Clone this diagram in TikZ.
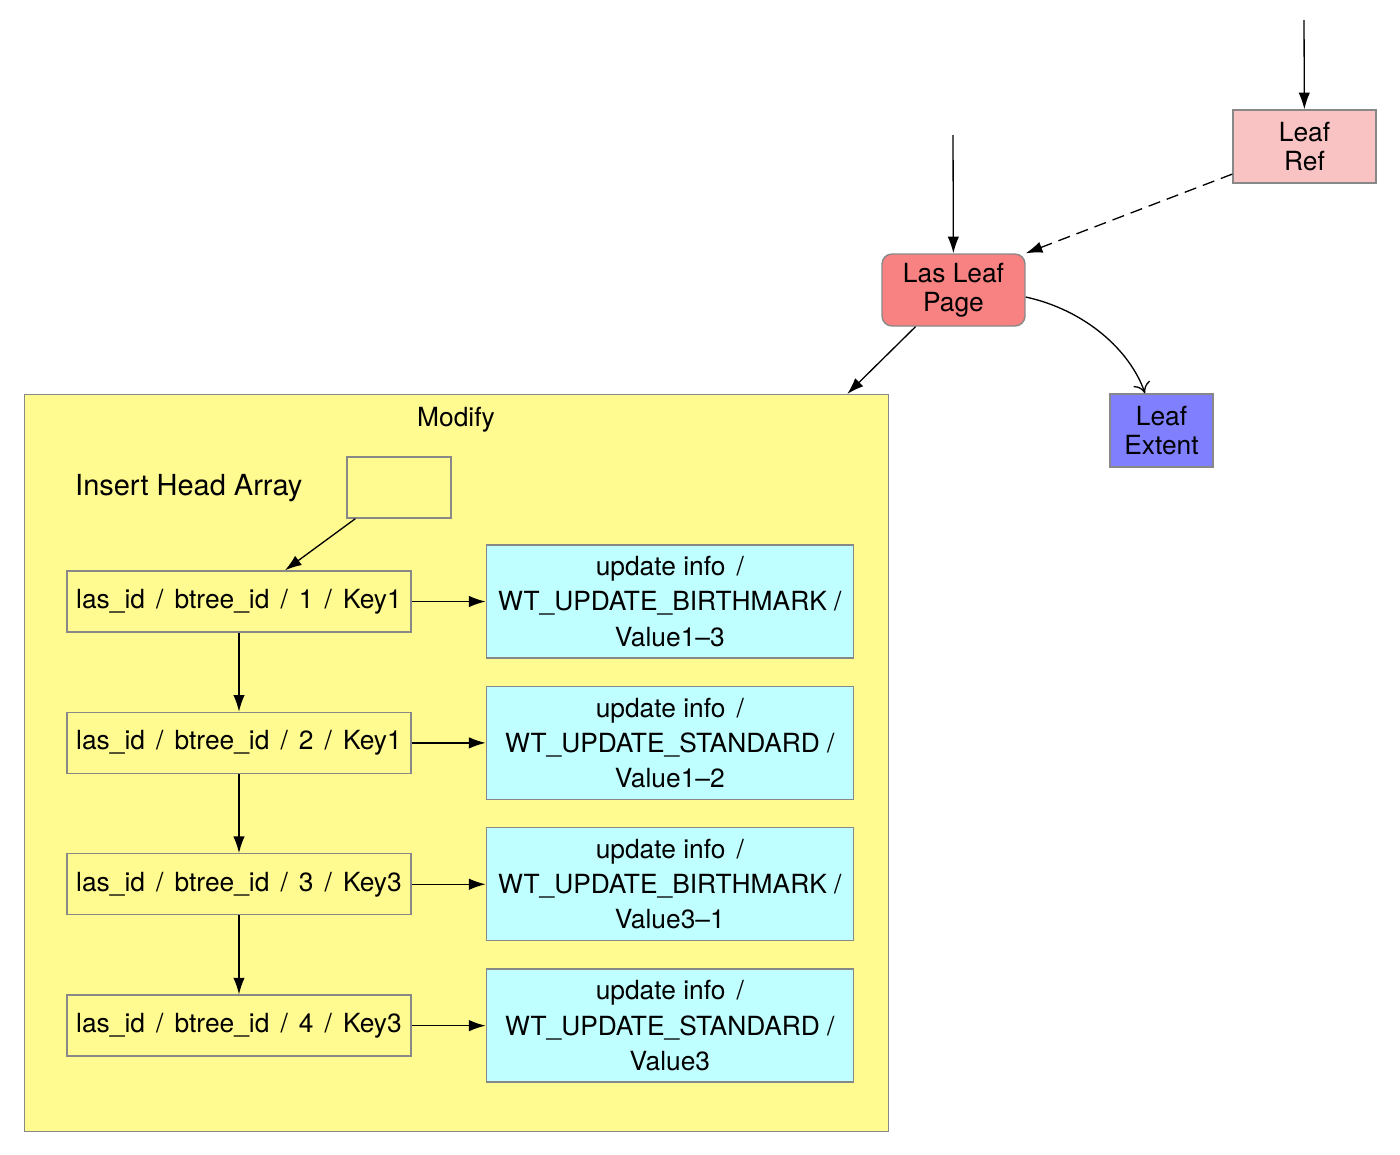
\documentclass[tikz,border=0pt]{standalone}
\usepackage{fontspec}
\setmainfont{TeX Gyre Heros}
\usetikzlibrary{arrows.meta,positioning}

\definecolor{modyellow}{RGB}{255,251,145}
\definecolor{updcyan}{RGB}{192,255,255}
\definecolor{refpink}{RGB}{250,195,195}
\definecolor{pagered}{RGB}{248,130,130}
\definecolor{extblue}{RGB}{128,128,255}
\definecolor{boxgray}{RGB}{136,136,136}

\newcommand{\pathsep}{\hspace{0.42em}/\hspace{0.42em}}

\begin{document}
\begin{tikzpicture}[x=0.02cm, y=-0.02cm, node distance=1.58cm,
        font=\fontsize{15}{20}\selectfont,
        box/.style={rectangle, draw=boxgray, line width=0.8pt, inner sep=0pt, align=center},
        leafbox/.style={box, minimum width=2.86cm, minimum height=1.46cm, font=\fontsize{15}{16.5}\selectfont},
        keybox/.style={box, fill=modyellow, minimum width=6.88cm, minimum height=1.22cm},
        updbox/.style={box, fill=updcyan, minimum width=7.34cm, minimum height=2.26cm},
        arr/.style={-{Latex[length=9.5pt,width=6.5pt]}, line width=0.75pt}]

        \useasboundingbox (0,0) rectangle (1400,1154);

        % upper part of the tree
        \node[leafbox, fill=refpink] (leafref) at (1304.5,146.5) {Leaf\\Ref};
        \node[leafbox, fill=pagered, rounded corners=0.2cm, minimum height=1.44cm] (laspage) at (953.5,290) {Las Leaf\\Page};
        \node[leafbox, fill=extblue, minimum width=2.06cm] (leafext) at (1161.5,430.5) {Leaf\\Extent};
        \coordinate (reftop) at (1304,20);
        \coordinate (pagetop) at (953,135);

        % modify structure
        \node[box, fill=modyellow, minimum width=17.28cm, minimum height=14.74cm, anchor=north west] (modify) at (24,394) {};
        \node (modlbl) at (456,420) {Modify};
        \node[anchor=west, font=\fontsize{16.5}{20}\selectfont] (headlbl) at (69,488) {Insert Head Array};
        \node[box, fill=modyellow, minimum width=2.08cm, minimum height=1.22cm] (head) at (399,487.5) {};

        \node[keybox] (key1) at (239,601.5) {las\_id\pathsep btree\_id\pathsep 1\pathsep Key1};
        \node[keybox, below=of key1] (key2) {las\_id\pathsep btree\_id\pathsep 2\pathsep Key1};
        \node[keybox, below=of key2] (key3) {las\_id\pathsep btree\_id\pathsep 3\pathsep Key3};
        \node[keybox, below=of key3] (key4) {las\_id\pathsep btree\_id\pathsep 4\pathsep Key3};

        \node[updbox, right=1.48cm of key1] (upd1) {update info\hspace{0.42em}/\\WT\_UPDATE\_BIRTHMARK /\\Value1--3};
        \node[updbox, right=1.48cm of key2] (upd2) {update info\hspace{0.42em}/\\WT\_UPDATE\_STANDARD /\\Value1--2};
        \node[updbox, right=1.48cm of key3] (upd3) {update info\hspace{0.42em}/\\WT\_UPDATE\_BIRTHMARK /\\Value3--1};
        \node[updbox, right=1.48cm of key4] (upd4) {update info\hspace{0.42em}/\\WT\_UPDATE\_STANDARD /\\Value3};

        % connectors
        \draw[arr] (reftop) -- (leafref);
        \draw[arr] (pagetop) -- (laspage);
        \draw[arr, dashed, dash pattern=on 7pt off 4pt] (leafref) -- (laspage.north east);
        \draw[arr] ([xshift=-0.76cm]laspage.south) -- ([xshift=-0.84cm]modify.north east);
        \draw[-{To[length=6pt,width=10pt]}, line width=0.75pt] ([yshift=-0.14cm]laspage.east)
            .. controls (1085,310) and (1130,350) .. ([xshift=-0.33cm]leafext.north);

        \draw[arr] ([xshift=0.18cm]head.south west) -- ([xshift=0.92cm]key1.north);
        \draw[arr] (key1) -- (key2);
        \draw[arr] (key2) -- (key3);
        \draw[arr] (key3) -- (key4);
        \draw[arr] (key1) -- (upd1);
        \draw[arr] (key2) -- (upd2);
        \draw[arr] (key3) -- (upd3);
        \draw[arr] (key4) -- (upd4);

\end{tikzpicture}
\end{document}
